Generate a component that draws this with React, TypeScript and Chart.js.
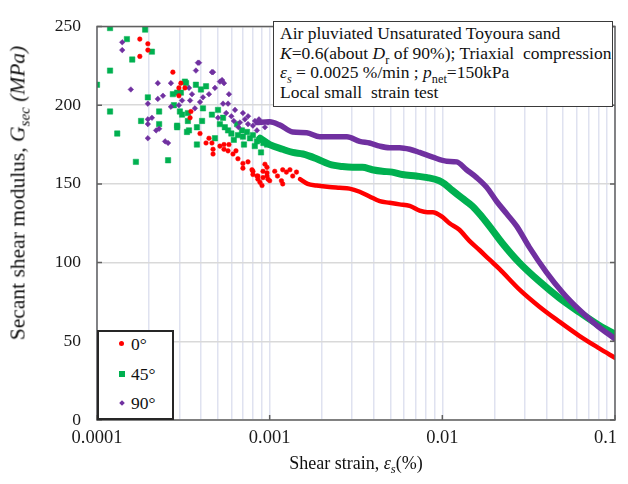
import React, { useEffect, useRef } from "react";
import { Chart, registerables } from "chart.js";

Chart.register(...registerables);

// Shear strain (%) vs secant shear modulus (MPa), local small-strain measurements.
// Scattered readings at very small strain, then the continuous record.

const noisy0: [number, number][] = [
  [1.77e-4, 242], [1.97e-4, 239], [1.97e-4, 235], [1.77e-4, 231],
  [2.75e-4, 221], [3.06e-4, 214], [2.98e-4, 211], [3.23e-4, 211], [2.98e-4, 206],
  [3.5e-4, 196], [3.46e-4, 192], [3.95e-4, 182], [4.45e-4, 179], [4.63e-4, 176],
  [4.28e-4, 176], [4.7e-4, 172], [4.7e-4, 169], [5.15e-4, 174], [5.44e-4, 175],
  [5.81e-4, 175], [5.44e-4, 172], [5.74e-4, 171], [6.13e-4, 169], [6.38e-4, 171],
  [6.55e-4, 166], [7.0e-4, 163], [7.49e-4, 164], [7.0e-4, 160], [7.9e-4, 159],
  [8.0e-4, 156], [8.55e-4, 155], [8.55e-4, 153], [9.15e-4, 154], [9.65e-4, 157],
  [9.78e-4, 153], [8.0e-4, 158], [8.44e-4, 155], [8.79e-4, 151], [9.39e-4, 162.5],
  [9.15e-4, 158], [9.65e-4, 160.5], [9.65e-4, 155], [1.0e-3, 152], [9.03e-4, 149],
  [1.07e-3, 158], [1.11e-3, 155], [1.17e-3, 152], [1.19e-3, 159], [1.25e-3, 157.5],
  [1.31e-3, 159], [1.36e-3, 155], [1.43e-3, 157.5], [1.19e-3, 150],
];

const noisy45: [number, number][] = [
  [1.0e-4, 213], [1.19e-4, 249], [1.9e-4, 248], [1.49e-4, 242], [2.08e-4, 234],
  [1.6e-4, 229], [1.19e-4, 222], [1.97e-4, 205], [1.19e-4, 196], [2.29e-4, 196],
  [1.8e-4, 190], [2.29e-4, 188], [1.31e-4, 182], [1.68e-4, 164], [2.58e-4, 165],
  [3.02e-4, 196], [2.75e-4, 207], [3.06e-4, 208], [3.28e-4, 214], [2.91e-4, 187],
  [3.41e-4, 184], [3.23e-4, 215], [3.74e-4, 213], [2.91e-4, 208], [4.0e-4, 210],
  [4.28e-4, 212], [2.79e-4, 200], [3.11e-4, 194], [3.36e-4, 195], [3.36e-4, 190],
  [2.91e-4, 186], [3.32e-4, 183], [3.79e-4, 186], [4.06e-4, 190], [4.11e-4, 198],
  [4.63e-4, 194], [5.02e-4, 197], [5.37e-4, 192], [5.15e-4, 188], [3.79e-4, 175],
  [4.82e-4, 179], [5.74e-4, 184], [6.47e-4, 188], [6.91e-4, 184], [6.55e-4, 181],
  [7.39e-4, 183], [7.69e-4, 179], [8.44e-4, 177], [8.91e-4, 170], [9.65e-4, 175],
  [7.1e-4, 175], [5.5e-4, 186], [6.0e-4, 182], [6.2e-4, 178], [7.0e-4, 180],
  [8.0e-4, 181], [8.2e-4, 174], [8.7e-4, 178], [9.2e-4, 176],
];

const noisy90: [number, number][] = [
  [1.4e-4, 240], [1.4e-4, 235], [1.57e-4, 210], [2.25e-4, 214], [2.68e-4, 214],
  [2.41e-4, 206], [2.25e-4, 204], [1.97e-4, 201], [2.68e-4, 199], [1.97e-4, 191],
  [2.08e-4, 192], [1.97e-4, 188], [2.29e-4, 185], [1.97e-4, 179], [2.48e-4, 177],
  [2.58e-4, 176], [2.98e-4, 200], [3.41e-4, 211], [3.84e-4, 227], [3.74e-4, 222],
  [4.7e-4, 221], [5.3e-4, 216], [5.44e-4, 214], [4.82e-4, 211], [5.81e-4, 207],
  [4.45e-4, 207], [4.11e-4, 205], [3.55e-4, 207], [3.46e-4, 203], [3.11e-4, 203],
  [3.95e-4, 202], [3.69e-4, 198], [5.37e-4, 201], [5.74e-4, 201], [5.02e-4, 192],
  [6.73e-4, 189], [7.19e-4, 191], [7.49e-4, 188], [8.22e-4, 190], [8.67e-4, 191],
  [9.39e-4, 186], [8.44e-4, 184], [9.78e-4, 189], [3.9e-4, 227], [4.63e-4, 221],
  [5.15e-4, 215], [2.2e-4, 184], [6.0e-4, 193], [6.3e-4, 197], [6.6e-4, 186],
  [7.0e-4, 195], [7.5e-4, 193], [8.0e-4, 187], [6.2e-4, 190], [5.6e-4, 195],
];

const record0: [number, number][] = [
  [1.5e-3, 153], [1.66e-3, 150], [1.87e-3, 149], [2.22e-3, 148], [2.54e-3, 147.5],
  [2.9e-3, 147], [3.32e-3, 145], [3.79e-3, 142], [4.34e-3, 139], [4.95e-3, 138],
  [5.66e-3, 137], [6.47e-3, 136], [7.39e-3, 133], [8.2e-3, 132], [8.8e-3, 132],
  [1.0e-2, 129], [1.1e-2, 125], [1.25e-2, 121], [1.43e-2, 114], [1.64e-2, 108],
  [1.87e-2, 102], [2.14e-2, 96], [2.79e-2, 83], [3.65e-2, 72], [4.76e-2, 62.5],
  [6.21e-2, 53.5], [8.11e-2, 45.5], [0.1, 39.5],
];

const record45: [number, number][] = [
  [8.8e-4, 179], [1.0e-3, 175], [1.19e-3, 172], [1.36e-3, 170], [1.56e-3, 169],
  [1.87e-3, 166], [2.22e-3, 162.5], [2.64e-3, 161], [3.02e-3, 160.5], [3.44e-3, 160.5],
  [3.93e-3, 159], [4.49e-3, 158], [5.13e-3, 157.5], [5.86e-3, 156], [7.06e-3, 155],
  [8.2e-3, 154], [9.6e-3, 152], [1.03e-2, 150], [1.14e-2, 146], [1.3e-2, 141],
  [1.49e-2, 136], [1.7e-2, 129], [1.94e-2, 121], [2.22e-2, 112.5], [2.79e-2, 100],
  [3.65e-2, 88], [4.76e-2, 77.5], [6.21e-2, 68.5], [8.11e-2, 60], [0.1, 54.5],
];

const record90: [number, number][] = [
  [8.44e-4, 189], [1.0e-3, 189.5], [1.14e-3, 187.5], [1.36e-3, 183], [1.64e-3, 182.5],
  [1.95e-3, 180], [2.32e-3, 180], [2.8e-3, 180], [3.32e-3, 177], [3.79e-3, 176],
  [4.34e-3, 174], [4.95e-3, 173], [5.66e-3, 173], [6.47e-3, 172], [7.39e-3, 170],
  [8.8e-3, 167], [1.06e-2, 164.4], [1.21e-2, 164], [1.38e-2, 159], [1.58e-2, 154],
  [1.8e-2, 148], [2.06e-2, 139], [2.36e-2, 131], [2.7e-2, 123], [3.18e-2, 110],
  [4.0e-2, 94], [4.97e-2, 81], [6.21e-2, 70], [7.78e-2, 60.5], [0.1, 51.5],
];

const seriesNames = ["0°", "45°", "90°"];
const seriesColors = ["#ff0000", "#00b050", "#7030a0"];

const xDecades = [1e-4, 1e-3, 1e-2, 1e-1];
const xDecadeLabels = ["0.0001", "0.001", "0.01", "0.1"];
const yTickValues = [0, 50, 100, 150, 200, 250];

const FONT = '"Liberation Serif", serif';

const pts = (arr: [number, number][]) => arr.map(([x, y]) => ({ x, y }));

// Minor log gridline positions (1..9 within each decade)
const xGridValues: number[] = [];
for (let d = 0; d < 3; d++) {
  for (let m = 1; m <= 9; m++) xGridValues.push(xDecades[d] * m);
}
xGridValues.push(xDecades[3]);

// Plot frame, inward tick marks and the decade labels of the strain axis
const framePlugin = {
  id: "frame",
  afterDatasetsDraw(chart: any) {
    const { ctx, chartArea: a, scales } = chart;
    ctx.save();
    ctx.strokeStyle = "#606060";
    ctx.lineWidth = 1.5;
    ctx.beginPath();
    for (const v of yTickValues) {
      const y = scales.y.getPixelForValue(v);
      ctx.moveTo(a.left, y);
      ctx.lineTo(a.left + 5, y);
      ctx.moveTo(a.right, y);
      ctx.lineTo(a.right - 5, y);
    }
    for (const v of xDecades) {
      const x = scales.x.getPixelForValue(v);
      ctx.moveTo(x, a.bottom);
      ctx.lineTo(x, a.bottom - 5);
    }
    ctx.stroke();
    ctx.strokeRect(a.left, a.top, a.right - a.left, a.bottom - a.top);

    ctx.fillStyle = "#1a1a1a";
    ctx.font = `18.5px ${FONT}`;
    ctx.textBaseline = "middle";
    xDecades.forEach((v, i) => {
      const last = i === xDecades.length - 1;
      ctx.textAlign = last ? "right" : "center";
      const x = last ? a.right + 2 : scales.x.getPixelForValue(v);
      ctx.fillText(xDecadeLabels[i], x, a.bottom + 18);
    });
    ctx.restore();
  },
};

export default function App() {
  const canvasRef = useRef<HTMLCanvasElement | null>(null);

  useEffect(() => {
    if (!canvasRef.current) return;
    const noisy = [noisy0, noisy45, noisy90];
    const records = [record0, record45, record90];
    const styles = ["circle", "rect", "rectRot"];
    const radii = [2.3, 3.8, 2.8];
    const widths = [4.5, 7, 5.5];
    const layerOrder = [1, 3, 2];

    const datasets: any[] = [];
    for (let i = 0; i < 3; i++) {
      datasets.push({
        label: seriesNames[i],
        data: pts(noisy[i]),
        pointStyle: styles[i],
        pointRadius: radii[i],
        pointBackgroundColor: seriesColors[i],
        pointBorderColor: seriesColors[i],
        pointBorderWidth: 0.5,
        showLine: false,
        order: layerOrder[i],
      });
      datasets.push({
        label: seriesNames[i],
        data: pts(records[i]),
        showLine: true,
        pointRadius: 0,
        borderColor: seriesColors[i],
        borderWidth: widths[i],
        cubicInterpolationMode: "monotone",
        borderCapStyle: "round",
        borderJoinStyle: "round",
        order: layerOrder[i],
      });
    }

    const chart = new Chart(canvasRef.current, {
      type: "scatter",
      data: { datasets },
      options: {
        animation: false,
        responsive: false,
        layout: { padding: { top: 21, right: 13, left: 0, bottom: 0 } },
        plugins: {
          legend: { display: false },
          tooltip: { enabled: false },
        },
        scales: {
          x: {
            type: "logarithmic",
            min: 1e-4,
            max: 0.1,
            afterBuildTicks: (scale: any) => {
              scale.ticks = xGridValues.map((v) => ({ value: v }));
            },
            afterFit: (scale: any) => {
              scale.height = 64;
            },
            ticks: { display: false },
            grid: { color: "#dfe2f0", lineWidth: 1.5, drawTicks: false },
            border: { display: false },
          },
          y: {
            min: 0,
            max: 250,
            afterBuildTicks: (scale: any) => {
              scale.ticks = yTickValues.map((v) => ({ value: v }));
            },
            afterFit: (scale: any) => {
              scale.width = 97;
            },
            ticks: {
              padding: 16,
              color: "#1a1a1a",
              font: { family: FONT, size: 17.5 },
            },
            grid: { color: "#d9d9d9", lineWidth: 1.5, drawTicks: false },
            border: { display: false },
          },
        },
      },
      plugins: [framePlugin],
    });
    return () => chart.destroy();
  }, []);

  const textStyle: React.CSSProperties = {
    position: "absolute",
    whiteSpace: "nowrap",
    color: "#111",
    fontFamily: FONT,
  };

  const legendMarker = (i: number): React.CSSProperties => {
    const base: React.CSSProperties = {
      position: "absolute",
      background: seriesColors[i],
    };
    if (i === 0) return { ...base, width: 5, height: 5, borderRadius: "50%", left: -3, top: -3 };
    if (i === 1) return { ...base, width: 6, height: 6, left: -3, top: -3 };
    return { ...base, width: 4, height: 4, transform: "rotate(45deg)", left: -2, top: -2 };
  };

  const sub: React.CSSProperties = { fontSize: "70%", lineHeight: 0 };

  return (
    <div
      style={{
        position: "fixed",
        left: 0,
        top: 0,
        width: 628,
        height: 484,
        background: "#fff",
        overflow: "hidden",
        fontFamily: FONT,
      }}
    >
      <canvas
        ref={canvasRef}
        width={628}
        height={484}
        style={{ position: "absolute", left: 0, top: 0, width: 628, height: 484 }}
      />

      {/* Y axis title */}
      <div
        style={{
          ...textStyle,
          left: 18,
          top: 193,
          fontSize: 21.5,
          transform: "translate(-50%, -50%) rotate(-90deg)",
        }}
      >
        Secant shear modulus, <i>G</i>
        <sub style={sub}>
          <i>sec</i>
        </sub>{" "}
        <i>(MPa)</i>
      </div>

      {/* X axis title */}
      <div
        style={{
          ...textStyle,
          left: 356,
          top: 463,
          fontSize: 18,
          transform: "translate(-50%, -50%)",
        }}
      >
        Shear strain, <i>ε</i>
        <sub style={sub}>
          <i>s</i>
        </sub>
        (%)
      </div>

      {/* Test condition box */}
      <div
        style={{
          position: "absolute",
          left: 273,
          top: 21,
          width: 340,
          height: 86,
          boxSizing: "border-box",
          border: "1.5px solid #3a3a3a",
          background: "#fff",
          padding: "2px 0 0 6px",
          fontSize: 17.5,
          lineHeight: "19.5px",
          color: "#111",
          whiteSpace: "nowrap",
        }}
      >
        <div>Air pluviated Unsaturated Toyoura sand</div>
        <div>
          <i>K</i>=0.6(about <i>D</i>
          <sub style={sub}>r</sub> of 90%); Triaxial&nbsp; compression
        </div>
        <div>
          <i>ε</i>
          <sub style={sub}>
            <i>s</i>
          </sub>{" "}
          = 0.0025 %/min ; <i>p</i>
          <sub style={sub}>net</sub>=150kPa
        </div>
        <div>Local small&nbsp; strain test</div>
      </div>

      {/* Legend */}
      <div
        style={{
          position: "absolute",
          left: 97,
          top: 330,
          width: 77,
          height: 90,
          boxSizing: "border-box",
          border: "2px solid #262626",
          background: "#fff",
        }}
      >
        {seriesNames.map((name, i) => (
          <div key={name}>
            <div style={{ position: "absolute", left: 23, top: 12 + i * 29.5 }}>
              <div style={legendMarker(i)} />
            </div>
            <div
              style={{
                ...textStyle,
                left: 32,
                top: 12 + i * 29.5,
                fontSize: 17.5,
                transform: "translateY(-50%)",
              }}
            >
              {name}
            </div>
          </div>
        ))}
      </div>
    </div>
  );
}
